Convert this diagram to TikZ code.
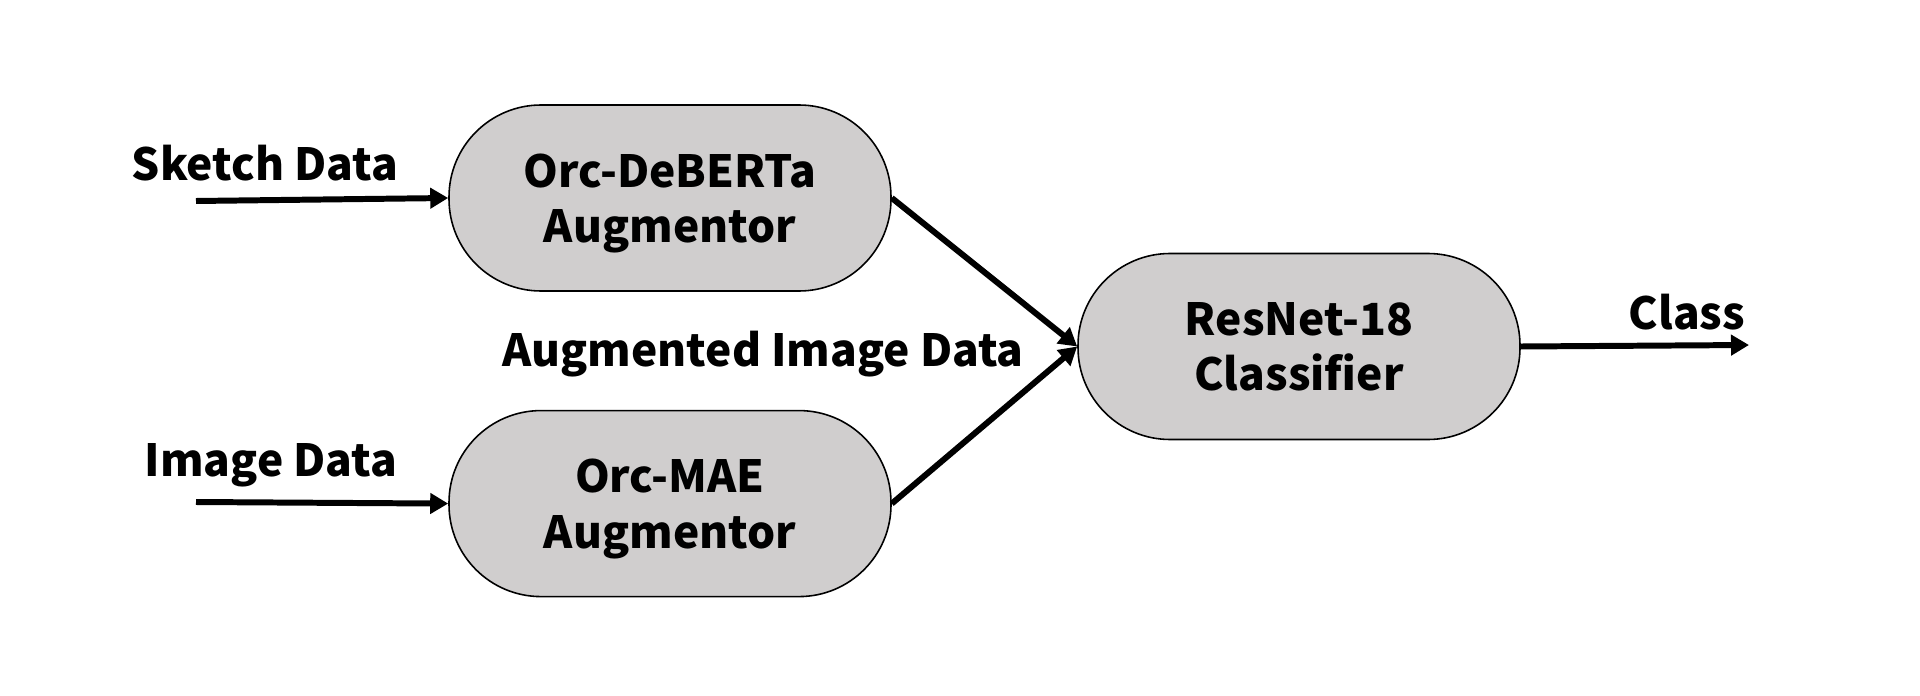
\documentclass[tikz,border=0pt]{standalone}
\usepackage{fontspec}
\usepackage{tikz}
\usetikzlibrary{positioning, arrows.meta}
\newfontfamily\diagfont{Noto Sans CJK SC}
\definecolor{boxgrey}{RGB}{208,206,206}

\tikzset{
   module/.style={draw=black, line width=0.45pt, fill=boxgrey, rounded corners=0.92cm,
      minimum width=4.42cm, minimum height=1.86cm, align=center, inner sep=0pt, text depth=0pt},
   flow/.style={line width=1.7pt, -{Triangle[length=0.18cm, width=0.2cm]}},
   tag/.style={inner sep=0pt},
}

\begin{document}
\begin{tikzpicture}[font=\diagfont\bfseries\fontsize{12.6}{15.8}\selectfont]
   \useasboundingbox (0,0) rectangle (19.2,-6.96);
   % augmentors and classifier
   \node[module] (deberta) at (6.70,-1.98) {Orc-DeBERTa\\Augmentor};
   \node[module, below=1.18cm of deberta] (mae) {Orc-MAE\\Augmentor};
   \node[module] (resnet) at (12.99,-3.465) {ResNet-18\\Classifier};
   % inputs and output
   \coordinate (sketchin) at (1.96,-2.01);
   \coordinate (imagein) at (1.96,-5.02);
   \coordinate (classout) at (17.49,-3.45);
   \node[tag] (sketch) at (2.65,-1.63) {Sketch Data};
   \node[tag] (image) at (2.71,-4.65) {Image Data};
   \node[tag] (augmented) at (7.63,-3.54) {Augmented Image Data};
   \node[tag] (class) at (16.87,-3.12) {Class};
   \draw[flow] (sketchin) -- (deberta.west);
   \draw[flow] (imagein) -- (mae.west);
   \draw[flow] (deberta.east) -- (resnet.west);
   \draw[flow] (mae.east) -- (resnet.west);
   \draw[flow] (resnet.east) -- (classout);
\end{tikzpicture}
\end{document}
